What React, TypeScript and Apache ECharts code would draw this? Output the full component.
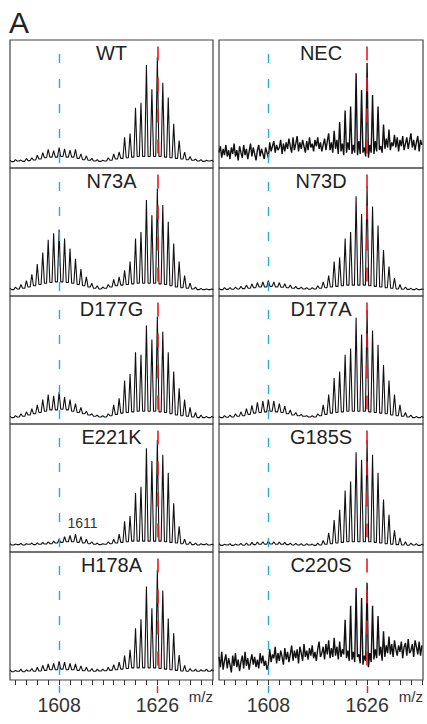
import React, { useEffect, useRef } from "react";
import * as echarts from "echarts";

const FONT = "'Liberation Sans', Arial, Helvetica, sans-serif";
const MZ_MIN = 1599;
const MZ_MAX = 1636.2;
const NOISE_STEP = 0.25;
const PEAK_HALF_WIDTH = 0.3;
const PEAK_MZ = [
  1599, 1600, 1601, 1602, 1603, 1604, 1605, 1606, 1607, 1608, 1609, 1610, 1611,
  1612, 1613, 1614, 1615, 1616, 1617, 1618, 1619, 1620, 1621, 1622, 1623, 1624,
  1625, 1626, 1627, 1628, 1629, 1630, 1631, 1632, 1633, 1634, 1635, 1636,
];
const TICK_VALUES = [
  1600, 1602, 1604, 1606, 1608, 1610, 1612, 1614, 1616, 1618, 1620, 1622, 1624,
  1626, 1628, 1630, 1632, 1634, 1636,
];
const LABEL_VALUES = [1608, 1626];
const BLUE_MZ = 1608;
const RED_MZ = 1626;
const BLUE_TOP = 89;
const RED_TOP = 95;
const ANNOTATION = "1611";

// peak apex heights at integer m/z (1599..1636); trough level between m/z and m/z + 1
const WT_PEAKS = [6.0, 6.5, 6.2, 7.5, 8.0, 10, 12, 14.5, 13.5, 16, 15, 14, 14.5, 11, 9.5, 7.5, 6.5, 6, 8, 11, 12.5, 24, 27, 47, 51, 80.5, 61.5, 86.5, 66.5, 55, 34.5, 21.5, 12.5, 9, 7, 6.5, 6, 6];
const WT_VALLEYS = [5, 5.5, 5.2, 5.8, 6.2, 7, 8, 8.5, 8.5, 9, 8.5, 8.5, 7.5, 6.5, 6, 5.5, 5.2, 5.5, 6, 7, 7.5, 8, 8.5, 9, 9, 9, 9, 9, 8.5, 8, 7.5, 7, 6.5, 6, 5.5, 5.2, 5.5, 5];

const N73A_PEAKS = [6, 7, 9, 12, 17, 25, 34, 44, 49, 52, 45, 37, 29, 21, 15, 10, 8, 7, 9, 13, 15, 20, 27, 45, 50, 75, 63, 84, 71, 58, 41, 27, 16, 10, 7, 6, 5.5, 5.5];
const N73A_VALLEYS = [5, 5.5, 6, 7, 8, 9, 10, 10.5, 11, 11, 10.5, 10, 9, 8, 7, 6, 5.5, 6, 7, 8, 8.5, 9, 9.5, 10, 10, 10, 10, 9.5, 9, 8, 7, 6.5, 6, 5.5, 5, 5, 5, 5];

const N73D_PEAKS = [6, 6.5, 6.5, 7, 7.5, 8.5, 9.5, 10.5, 11, 12, 11, 10.5, 9.5, 8.5, 7.5, 7, 6.5, 6.5, 8, 11, 16, 27, 30, 45, 50, 78, 64, 86, 70, 55, 36, 23, 14, 9, 7, 6, 6, 5.5];
const N73D_VALLEYS = [5, 5.2, 5.3, 5.5, 5.8, 6, 6.5, 7, 7, 7.5, 7, 6.8, 6.5, 6, 5.8, 5.5, 5.3, 5.5, 6, 6.5, 7, 7.5, 8, 8.5, 8.5, 8.5, 8.5, 8, 7.5, 7, 6.5, 6, 5.5, 5.3, 5.2, 5, 5, 5];

const D177G_PEAKS = [6, 6.5, 8, 9.5, 12, 15, 19, 23, 22, 25, 21, 19, 16, 13, 10, 8, 7, 6.5, 8, 15, 20, 34, 39, 56, 54, 77, 66, 84, 72, 56, 41, 28, 19, 13, 9, 7, 6, 6];
const D177G_VALLEYS = [5, 5.5, 6, 7, 8, 9, 10, 11, 11, 11.5, 11, 10, 9, 8, 7, 6, 5.5, 5.5, 6.5, 7.5, 8.5, 9, 9.5, 10, 10, 10, 10, 9.5, 9, 8, 7, 6.5, 6, 5.5, 5, 5, 5, 5];

const D177A_PEAKS = [6, 6.5, 7, 8, 9.5, 12, 14.5, 17, 18, 19, 18, 16, 14, 11, 9, 7.5, 6.5, 6.5, 8, 15, 23, 36, 41, 54, 59, 83, 70, 89, 73, 62, 46, 34, 23, 15, 9, 7, 6, 6];
const D177A_VALLEYS = [5, 5.3, 5.5, 6, 6.5, 7.5, 8.5, 9, 9.5, 10, 9.5, 9, 8, 7, 6.5, 6, 5.5, 5.5, 6.5, 7.5, 8.5, 9, 9.5, 10, 10, 10, 10, 9.5, 9, 8.5, 8, 7, 6.5, 6, 5.5, 5, 5, 5];

const E221K_PEAKS = [6.5, 6.2, 6.8, 6.5, 7, 7.2, 7.5, 8, 8.5, 10, 12, 13, 14, 12, 10, 8, 7, 6.5, 8, 10, 14, 24, 28, 46, 51, 81, 71, 87.5, 76, 62, 38, 20, 10, 8, 7, 6.5, 6.5, 6];
const E221K_VALLEYS = [5.5, 5.8, 5.5, 6, 5.8, 6, 6.2, 6.5, 7, 7.5, 8, 8, 7.5, 7, 6.5, 6, 5.8, 6, 6.5, 7, 7.5, 8, 8.5, 8.5, 8.5, 8.5, 8.5, 8.5, 8, 7.5, 7, 6.5, 6, 5.8, 5.5, 5.8, 5.5, 5.5];

const G185S_PEAKS = [6.5, 6, 6.5, 6.2, 6.8, 7, 7.5, 7.8, 8, 8.5, 8, 7.8, 7.5, 7, 6.8, 6.5, 6.5, 6.2, 7, 9, 15, 25, 33, 48, 55, 78, 72, 87.5, 76, 62, 41, 29, 17, 11, 8, 7, 6.5, 6.2];
const G185S_VALLEYS = [5.2, 5.5, 5.2, 5.5, 5.3, 5.5, 5.8, 6, 6, 6.2, 6, 6, 5.8, 5.5, 5.5, 5.3, 5.5, 5.2, 5.5, 6, 6.5, 7, 7.5, 8, 8, 8, 8, 8, 7.5, 7, 6.5, 6, 5.8, 5.5, 5.3, 5.5, 5.2, 5.2];

const H178A_PEAKS = [8, 7.5, 8.5, 8, 9, 10, 11.5, 12.5, 13, 14.5, 14, 13, 12.5, 11, 10, 9, 8.5, 8.5, 10, 12, 14, 19, 23.5, 40.5, 47.5, 73, 56, 86, 70, 48, 36.5, 19.5, 11.5, 9, 8.5, 8, 8.5, 8];
const H178A_VALLEYS = [6.5, 6.8, 6.5, 7, 6.8, 7, 7.5, 8, 8, 8.5, 8, 8, 7.5, 7.2, 7, 6.8, 7, 7.2, 7.5, 8, 8.5, 9, 9.5, 9.5, 9.5, 9.5, 9.5, 9, 8.5, 8, 7.5, 7, 6.8, 7, 6.8, 7, 6.8, 7];

// noisy spectra sampled every 0.25 m/z from 1599 to 1636
const NEC_SIGNAL = [
  12, 17, 8, 15, 10, 18, 9, 14, 7, 16, 11, 19, 9, 14, 6, 17,
  12, 8, 18, 10, 15, 7, 13, 19, 9, 16, 11, 6, 14, 18, 9, 15,
  11, 7, 16, 12, 8, 20, 13, 17, 21, 12, 18, 14, 16, 22, 11, 19,
  13, 20, 15, 23, 17, 12, 24, 14, 19, 25, 13, 20, 15, 22, 17, 12,
  21, 14, 24, 16, 19, 13, 22, 17, 24, 15, 20, 13, 18, 23, 14, 21,
  27, 14, 20, 12, 29, 15, 22, 11, 36, 13, 19, 10, 45, 12, 20, 14,
  48, 11, 18, 12, 74, 10, 21, 11, 61, 12, 16, 9, 82, 8, 18, 12,
  57, 11, 21, 13, 48, 14, 17, 12, 34, 15, 23, 16, 30, 14, 20, 17,
  26, 16, 24, 13, 22, 17, 25, 14, 19, 24, 15, 21, 27, 16, 22, 14,
  20, 25, 13, 22, 18,
];
const C220S_SIGNAL = [
  18, 10, 22, 8, 15, 20, 9, 17, 12, 6, 19, 11, 21, 10, 16, 7,
  14, 19, 9, 22, 11, 17, 8, 15, 20, 12, 18, 10, 16, 9, 21, 13,
  19, 11, 15, 8, 12, 24, 14, 20, 17, 26, 13, 21, 15, 23, 18, 12,
  25, 16, 22, 14, 20, 27, 15, 23, 17, 24, 13, 26, 21, 15, 28, 18,
  23, 16, 25, 19, 27, 17, 22, 15, 24, 30, 18, 21, 26, 16, 28, 20,
  31, 17, 25, 18, 33, 19, 26, 16, 30, 18, 24, 20, 47, 17, 23, 15,
  58, 16, 22, 14, 72, 18, 20, 13, 64, 12, 19, 15, 76, 10, 21, 14,
  58, 16, 24, 17, 50, 19, 26, 15, 38, 18, 27, 21, 34, 20, 28, 18,
  31, 24, 19, 27, 22, 30, 17, 26, 29, 19, 32, 21, 23, 28, 18, 31,
  26, 20, 30, 19, 27,
];

const PANELS = [
  { name: "WT", col: 0, row: 0, peaks: WT_PEAKS, valleys: WT_VALLEYS },
  { name: "N73A", col: 0, row: 1, peaks: N73A_PEAKS, valleys: N73A_VALLEYS },
  { name: "D177G", col: 0, row: 2, peaks: D177G_PEAKS, valleys: D177G_VALLEYS },
  { name: "E221K", col: 0, row: 3, peaks: E221K_PEAKS, valleys: E221K_VALLEYS },
  { name: "H178A", col: 0, row: 4, peaks: H178A_PEAKS, valleys: H178A_VALLEYS },
  { name: "NEC", col: 1, row: 0, signal: NEC_SIGNAL },
  { name: "N73D", col: 1, row: 1, peaks: N73D_PEAKS, valleys: N73D_VALLEYS },
  { name: "D177A", col: 1, row: 2, peaks: D177A_PEAKS, valleys: D177A_VALLEYS },
  { name: "G185S", col: 1, row: 3, peaks: G185S_PEAKS, valleys: G185S_VALLEYS },
  { name: "C220S", col: 1, row: 4, signal: C220S_SIGNAL },
];

const COL_LEFT = [10, 219];
const COL_WIDTH = [203, 204];
const ROW_TOP = [40, 168, 296, 424, 552];
const ROW_H = 128;
const BLUE = "#27a9e1";
const RED = "#ec1c24";
const INK = "#111";
const FRAME = "#444";

function buildData(p: any): number[][] {
  const out: number[][] = [];
  if (p.signal) {
    p.signal.forEach((v: number, i: number) => out.push([MZ_MIN + i * NOISE_STEP, v]));
  } else {
    PEAK_MZ.forEach((mz, i) => {
      if (i > 0) out.push([mz - PEAK_HALF_WIDTH, p.valleys[i - 1]]);
      out.push([mz, p.peaks[i]]);
      out.push([mz + PEAK_HALF_WIDTH, p.valleys[i]]);
    });
  }
  return out;
}

function buildOption() {
  const grid: any[] = [];
  const xAxis: any[] = [];
  const yAxis: any[] = [];
  const series: any[] = [];
  const graphic: any[] = [];

  graphic.push({
    type: "text",
    x: 9,
    y: 22.5,
    style: { text: "A", font: `30px ${FONT}`, fill: "#222", align: "left", verticalAlign: "middle" },
  });

  PANELS.forEach((p, k) => {
    const left = COL_LEFT[p.col];
    const width = COL_WIDTH[p.col];
    const top = ROW_TOP[p.row];
    const bottomRow = p.row === ROW_TOP.length - 1;
    grid.push({
      left,
      top,
      width,
      height: ROW_H,
      show: true,
      borderColor: FRAME,
      borderWidth: 1.2,
      backgroundColor: "transparent",
      containLabel: false,
    });
    const xi = xAxis.length;
    xAxis.push({
      type: "value",
      gridIndex: k,
      min: MZ_MIN,
      max: MZ_MAX,
      position: "bottom",
      show: bottomRow,
      axisLine: { show: false },
      splitLine: { show: false },
      axisTick: {
        show: true,
        customValues: TICK_VALUES,
        length: 5,
        lineStyle: { color: "#333", width: 1 },
      },
      axisLabel: {
        show: true,
        customValues: LABEL_VALUES,
        formatter: (v: number) => String(v),
        margin: 15,
        fontSize: 19.5,
        color: "#333",
        fontFamily: FONT,
      },
    });
    if (bottomRow) {
      [
        [BLUE_MZ, BLUE],
        [RED_MZ, RED],
      ].forEach(([mz, color]) => {
        xAxis.push({
          type: "value",
          gridIndex: k,
          min: MZ_MIN,
          max: MZ_MAX,
          position: "bottom",
          offset: 6,
          axisLine: { show: false },
          splitLine: { show: false },
          axisLabel: { show: false },
          axisTick: { show: true, customValues: [mz], length: 7, lineStyle: { color, width: 1.4 } },
        });
      });
    }
    yAxis.push({ type: "value", gridIndex: k, min: 0, max: 100, show: false, splitLine: { show: false } });
    series.push({
      type: "line",
      xAxisIndex: xi,
      yAxisIndex: k,
      data: buildData(p),
      showSymbol: false,
      symbol: "none",
      silent: true,
      lineStyle: { color: INK, width: p.signal ? 1.4 : 1.1 },
      z: 2,
      markLine: {
        silent: true,
        symbol: ["none", "none"],
        animation: false,
        label: { show: false },
        z: 10,
        data: [
          [
            { coord: [BLUE_MZ, BLUE_TOP], lineStyle: { color: BLUE, width: 1.4, type: [9, 16] } },
            { coord: [BLUE_MZ, 0] },
          ],
          [
            { coord: [RED_MZ, RED_TOP], lineStyle: { color: RED, width: 1.6, type: [14, 17] } },
            { coord: [RED_MZ, 0] },
          ],
        ],
      },
    });
    graphic.push({
      type: "text",
      x: left + width / 2,
      y: top + 12.5,
      style: { text: p.name, font: `20px ${FONT}`, fill: "#222", align: "center", verticalAlign: "middle" },
    });
    if (bottomRow) {
      graphic.push({
        type: "text",
        x: left + width,
        y: 696.5,
        style: { text: "m/z", font: `15px ${FONT}`, fill: "#333", align: "right", verticalAlign: "middle" },
      });
    }
    if (p.name === "E221K") {
      graphic.push({
        type: "text",
        x: 82.5,
        y: 522.5,
        style: { text: ANNOTATION, font: `14px ${FONT}`, fill: "#333", align: "center", verticalAlign: "middle" },
      });
    }
  });

  return { animation: false, backgroundColor: "#fff", grid, xAxis, yAxis, series, graphic };
}

export default function App() {
  const ref = useRef<HTMLDivElement>(null);
  useEffect(() => {
    document.body.style.margin = "0";
    const chart = echarts.init(ref.current!, null, { renderer: "svg" });
    chart.setOption(buildOption() as any);
    return () => chart.dispose();
  }, []);
  return <div ref={ref} style={{ width: 427, height: 724 }} />;
}
